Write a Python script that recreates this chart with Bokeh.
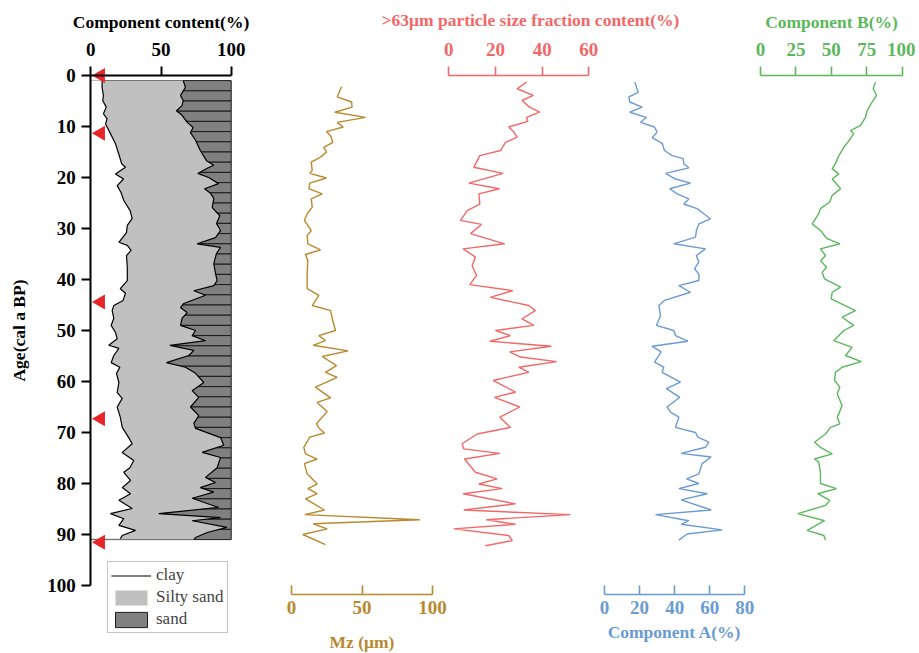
import numpy as np
from bokeh.plotting import figure
from bokeh.models import Range1d, LinearAxis, FixedTicker, Legend, LegendItem
from bokeh.embed import file_html
from bokeh.resources import INLINE

# ---------------- data ----------------
clay_age = [1.0, 2.3, 3.9, 4.9, 6.2, 7.5, 8.5, 9.5, 11.4, 13.4, 15.3, 17.3, 18.0, 19.3, 20.3, 21.6, 23.0,
            24.5, 26.5, 28.0, 29.4, 30.8, 32.7, 33.3, 34.3, 35.3, 37.6, 40.2, 41.8, 42.7, 44.1, 45.1, 46.1,
            47.6, 49.0, 50.4, 51.6, 52.9, 53.5, 54.9, 56.3, 57.2, 58.4, 60.2, 62.2, 63.3, 65.0, 67.0, 69.0,
            71.0, 72.2, 73.9, 75.5, 76.9, 77.8, 79.4, 80.8, 82.0, 83.3, 84.9, 85.9, 86.9, 88.2, 89.2, 90.2, 90.8]
clay = [8.1, 8.0, 9.0, 8.5, 11.0, 9.0, 11.6, 10.5, 14.0, 17.6, 19.8, 22.0, 24.7, 17.6, 23.3, 18.8, 21.6,
        23.5, 28.0, 29.5, 26.0, 25.4, 20.0, 26.0, 28.7, 25.4, 26.0, 26.0, 21.0, 24.7, 23.0, 16.4, 15.2,
        16.4, 14.5, 17.6, 18.8, 12.8, 20.0, 16.4, 14.5, 20.7, 18.3, 20.0, 18.8, 22.4, 18.8, 21.0, 22.4,
        27.0, 29.5, 22.4, 30.6, 27.8, 23.5, 28.3, 22.4, 28.3, 20.0, 29.5, 14.0, 23.5, 20.0, 31.8, 22.4, 21.0]

silt_age = [1.0, 2.3, 3.9, 4.9, 5.9, 6.9, 7.8, 9.2, 10.2, 11.2, 12.7, 14.7, 16.7, 17.6, 18.2, 19.2, 20.0,
            21.2, 22.2, 23.1, 24.1, 25.9, 27.5, 29.0, 30.4, 31.8, 33.0, 33.7, 34.9, 36.9, 38.8, 40.2, 41.2,
            42.2, 43.1, 44.7, 45.5, 46.5, 47.6, 49.0, 50.0, 51.0, 52.0, 52.9, 53.9, 54.9, 56.3, 57.2, 58.4,
            60.2, 61.8, 63.1, 65.0, 66.7, 68.2, 69.2, 71.0, 72.5, 73.9, 74.9, 76.9, 78.8, 79.8, 80.8, 81.7,
            82.9, 84.7, 85.9, 86.7, 87.3, 88.6, 89.6, 90.6, 91.0]
silt_top = [65.8, 67.4, 63.9, 65.8, 65.0, 61.0, 65.0, 68.7, 72.9, 71.0, 74.6, 78.0, 82.4, 87.6, 82.9, 76.2, 84.0,
            91.0, 81.0, 85.3, 87.6, 86.5, 91.9, 89.5, 92.4, 88.8, 75.8, 92.4, 89.5, 87.6, 88.8, 90.0, 87.6,
            73.4, 81.7, 66.2, 63.9, 68.7, 65.0, 63.9, 74.6, 72.2, 81.7, 56.3, 73.4, 69.8, 53.9, 67.4, 74.6,
            80.5, 72.2, 76.9, 71.0, 76.9, 73.4, 74.6, 92.4, 94.7, 79.3, 92.4, 90.0, 81.7, 88.8, 78.0, 87.6,
            72.2, 91.0, 48.4, 92.4, 72.2, 97.0, 82.9, 74.6, 73.4]

sand_rows = list(range(2, 92, 2))          # sand layer centres (age)
dating_age = [0.0, 11.3, 44.4, 67.3, 91.5]  # dating points (red triangles)

mz_age = [2.2, 4.2, 5.2, 6.2, 7.2, 8.2, 9.2, 10.1, 11.0, 11.8, 13.1, 14.1, 15.0, 16.0, 17.0, 18.6, 19.2,
          20.1, 21.1, 22.2, 23.2, 24.2, 25.8, 27.1, 28.4, 29.4, 30.4, 31.4, 33.0, 34.2, 35.1, 36.3, 38.9,
          41.8, 43.1, 45.1, 46.1, 48.0, 50.0, 51.0, 52.0, 52.9, 54.0, 55.1, 56.9, 58.2, 59.2, 61.1, 63.2,
          64.1, 65.9, 67.0, 68.3, 69.1, 70.1, 70.9, 72.9, 74.2, 75.2, 76.1, 78.1, 80.1, 81.0, 82.0, 83.0,
          85.2, 86.1, 87.1, 87.9, 88.9, 90.0, 92.0]
mz = [35.5, 32.4, 42.6, 43.0, 30.7, 52.5, 32.4, 36.7, 24.8, 27.7, 29.3, 22.9, 24.8, 20.6, 14.0, 14.7, 13.0,
      24.8, 13.0, 12.3, 21.8, 14.0, 14.7, 11.1, 9.2, 11.6, 14.0, 11.1, 11.6, 20.6, 9.9, 11.6, 11.1,
      11.1, 19.4, 14.7, 27.7, 29.2, 31.2, 19.4, 24.1, 15.4, 40.0, 21.8, 31.9, 24.1, 32.4, 17.0, 27.7,
      18.2, 25.3, 21.8, 17.7, 19.4, 23.4, 13.0, 8.7, 9.9, 18.2, 9.2, 11.1, 18.2, 11.6, 18.2, 9.9,
      23.4, 9.4, 91.0, 15.4, 25.3, 8.0, 24.1]

coarse_age = [1.3, 2.6, 3.9, 4.9, 6.1, 7.2, 8.2, 9.0, 10.1, 11.1, 12.1, 13.1, 14.7, 15.7, 16.7, 18.0, 19.2,
              21.1, 22.2, 23.2, 25.2, 26.5, 28.4, 29.2, 31.0, 33.0, 34.0, 35.6, 37.3, 39.2, 41.0, 42.2, 43.5,
              45.1, 46.1, 47.7, 49.0, 50.0, 51.0, 52.1, 53.1, 54.2, 55.2, 56.1, 57.2, 58.2, 59.8, 62.1, 63.1,
              65.0, 67.0, 69.0, 70.3, 72.2, 73.2, 74.1, 75.2, 77.8, 79.1, 80.1, 81.0, 82.0, 84.0, 85.2, 86.1,
              87.1, 88.0, 88.9, 90.2, 91.2, 92.2]
coarse = [33.3, 29.3, 36.2, 31.4, 34.3, 38.9, 33.3, 33.9, 25.7, 27.9, 29.3, 24.3, 22.2, 13.3, 12.2, 10.7, 23.3,
          8.6, 21.7, 12.9, 13.3, 7.9, 5.0, 14.0, 9.3, 23.9, 6.1, 11.4, 10.0, 11.9, 9.0, 27.4, 17.8,
          34.3, 37.1, 31.4, 36.4, 20.0, 26.4, 17.6, 43.9, 26.1, 30.7, 46.2, 30.0, 34.3, 19.0, 28.6, 19.6,
          30.4, 21.9, 26.4, 12.2, 5.7, 6.4, 21.9, 6.7, 11.4, 20.7, 12.9, 22.9, 6.1, 28.6, 6.4, 52.1,
          16.1, 28.6, 2.1, 25.7, 27.2, 15.7]

compA_age = [1.3, 3.3, 4.2, 5.2, 6.2, 7.2, 8.2, 9.2, 10.1, 11.1, 12.2, 13.3, 14.7, 15.7, 16.3, 17.3, 18.1,
             19.2, 20.3, 21.1, 22.2, 23.2, 24.2, 25.2, 26.1, 27.1, 28.1, 29.1, 30.4, 31.7, 33.0, 34.0, 35.3,
             36.6, 37.9, 38.9, 40.2, 41.2, 42.5, 44.1, 45.1, 47.1, 49.0, 50.0, 51.0, 52.1, 53.1, 54.2, 56.2,
             57.2, 58.2, 60.1, 61.4, 63.1, 65.0, 66.0, 67.0, 69.0, 70.0, 70.9, 71.9, 72.9, 74.1, 74.8, 76.1,
             78.1, 79.1, 80.0, 81.0, 82.0, 83.2, 85.2, 86.1, 87.3, 88.0, 89.1, 89.9, 91.1]
compA = [17.3, 19.2, 13.9, 14.4, 21.5, 14.4, 23.9, 20.5, 28.5, 30.0, 27.2, 32.9, 34.2, 38.6, 44.9, 45.2, 48.1,
         34.8, 40.5, 49.0, 37.2, 41.4, 48.1, 45.2, 52.8, 56.6, 60.4, 53.8, 52.4, 51.9, 39.5, 57.6, 52.4,
         53.8, 51.3, 53.8, 53.8, 42.4, 49.0, 34.2, 31.0, 31.9, 29.6, 39.5, 40.5, 47.5, 27.2, 32.3, 28.5,
         33.8, 32.9, 43.3, 35.3, 42.9, 35.7, 37.6, 42.4, 40.5, 51.9, 53.2, 59.5, 57.6, 43.7, 60.8, 55.7,
         53.8, 46.8, 53.8, 42.4, 58.6, 43.7, 60.8, 29.1, 48.1, 43.7, 67.1, 47.1, 42.4]

compB_age = [1.3, 2.6, 3.9, 5.2, 6.9, 8.2, 9.8, 10.8, 11.4, 12.4, 14.1, 15.7, 17.3, 18.3, 19.3, 20.3, 22.2,
             23.5, 24.8, 26.1, 27.1, 29.1, 30.4, 32.0, 33.0, 34.0, 35.3, 36.3, 37.6, 38.6, 39.9, 41.5, 42.5,
             43.8, 46.1, 47.4, 49.0, 50.0, 52.0, 53.3, 54.9, 56.1, 57.2, 58.2, 59.8, 61.1, 62.4, 64.7, 66.3,
             67.0, 68.3, 69.0, 70.3, 71.9, 72.9, 74.2, 75.2, 75.8, 77.8, 80.0, 81.0, 82.0, 83.3, 84.3, 85.9,
             87.3, 89.2, 90.2, 91.1]
compB = [81.2, 79.5, 81.9, 78.8, 75.3, 74.1, 70.6, 63.5, 65.8, 63.5, 58.8, 55.3, 52.9, 50.6, 55.3, 50.6, 56.5,
         50.6, 48.9, 42.3, 41.1, 36.5, 42.3, 47.0, 56.0, 42.3, 45.9, 42.3, 46.6, 43.5, 45.2, 56.5, 50.6,
         49.9, 67.0, 57.6, 65.8, 58.8, 51.7, 64.7, 60.0, 71.1, 57.6, 52.9, 52.2, 56.0, 54.1, 57.6, 55.3,
         54.1, 56.0, 49.4, 45.9, 38.1, 42.3, 50.6, 38.1, 41.1, 42.3, 42.3, 53.6, 40.4, 48.9, 45.9, 26.3,
         45.2, 32.9, 44.7, 45.9]

age_ticks = [0, 10, 20, 30, 40, 50, 60, 70, 80, 90, 100]
cc_ticks = [0, 50, 100]
mz_ticks = [0, 50, 100]
coarse_ticks = [0, 20, 40, 60]
compA_ticks = [0, 20, 40, 60, 80]
compB_ticks = [0, 25, 50, 75, 100]

# ---------------- layout (page pixels; the canvas starts at page 0,0) ----------------
W, H = 915, 652
FL, FW = 0.0, float(W)
AGE0_Y, PX_AGE = 75.0, 5.1
top_age = (0 - AGE0_Y) / PX_AGE
bot_age = (H - AGE0_Y) / PX_AGE


def xr(a, pa, b, pb):
    s = (pb - pa) / (b - a)
    start = a - (pa - FL) / s
    return Range1d(start=start, end=start + FW / s)


MZC = "#b8892f"
REDC = "#f26868"
BLUEC = "#6a9bd3"
GREENC = "#5cb85c"
FONT = "Liberation Serif"

p = figure(width=W, height=H, output_backend="svg", toolbar_location=None,
           x_range=xr(0, 90.3, 100, 230.7), y_range=Range1d(start=bot_age, end=top_age),
           x_axis_location=None, y_axis_location=None,
           min_border_left=0, min_border_right=0, min_border_top=0, min_border_bottom=0)
p.extra_x_ranges = {
    "mz": xr(0, 291, 100, 432),
    "red": xr(0, 448.3, 60, 588.3),
    "a": xr(0, 604, 80, 744.3),
    "b": xr(0, 760, 100, 901.7),
}
p.outline_line_color = None
p.grid.visible = False
p.background_fill_color = "white"
p.border_fill_color = "white"

# ---- component content panel ----
sand = p.hbar(y=sand_rows, left=0, right=100, height=2, fill_color="#808080", line_color="#1a1a1a",
              line_width=1)
silt = p.harea(x1=0, x2=silt_top, y=silt_age, fill_color="#c0c0c0")
p.harea(x1=0, x2=clay, y=clay_age, fill_color="white")
p.line(silt_top, silt_age, line_color="black", line_width=1.2)
clay_line = p.line(clay, clay_age, line_color="black", line_width=1.2)
p.scatter(x=7, y=dating_age, marker="triangle", size=15, angle=np.pi / 2,
          fill_color="#e8262a", line_color=None)

# ---- line panels ----
p.line(mz, mz_age, x_range_name="mz", line_color=MZC, line_width=1.4)
p.line(coarse, coarse_age, x_range_name="red", line_color=REDC, line_width=1.4)
p.line(compA, compA_age, x_range_name="a", line_color=BLUEC, line_width=1.4)
p.line(compB, compB_age, x_range_name="b", line_color=GREENC, line_width=1.4)


def style(ax, color, side):
    ax.axis_line_color = color
    ax.major_tick_line_color = color
    ax.major_label_text_color = color
    ax.axis_label_text_color = color
    ax.minor_tick_line_color = None
    ax.axis_line_width = 1.6
    ax.major_tick_line_width = 1.6
    ax.major_label_text_font = FONT
    ax.major_label_text_font_style = "bold"
    ax.major_label_text_font_size = "19px"
    ax.axis_label_text_font = FONT
    ax.axis_label_text_font_style = "bold"
    ax.axis_label_text_font_size = "17.5px"
    if side == "above":
        ax.major_tick_out = 9
        ax.major_tick_in = 0
        ax.major_label_standoff = 11
        ax.axis_label_standoff = 8
    elif side == "below":
        ax.major_tick_out = 0
        ax.major_tick_in = 9
        ax.major_label_standoff = 6


BOT_AGE = (594 - AGE0_Y) / PX_AGE

ax_cc = LinearAxis(fixed_location=0, bounds=(0, 100), ticker=FixedTicker(ticks=cc_ticks),
                   axis_label="Component content(%)")
style(ax_cc, "black", "above")
ax_cc.axis_line_width = 2
ax_cc.major_tick_line_width = 2
p.add_layout(ax_cc, "above")

ax_red = LinearAxis(x_range_name="red", fixed_location=0, bounds=(0, 60),
                    ticker=FixedTicker(ticks=coarse_ticks))
style(ax_red, REDC, "above")
p.add_layout(ax_red, "above")

# title of the coarse-fraction axis (sits slightly right of the axis centre in the original)
ax_red_title = LinearAxis(x_range_name="red", fixed_location=0, bounds=(10, 60),
                          ticker=FixedTicker(ticks=[]),
                          axis_label=">63\u03bcm particle size fraction content(%)")
style(ax_red_title, REDC, "above")
ax_red_title.axis_line_color = None
ax_red_title.major_tick_out = 0
ax_red_title.axis_label_standoff = 46
p.add_layout(ax_red_title, "above")

ax_b = LinearAxis(x_range_name="b", fixed_location=0, bounds=(0, 100),
                  ticker=FixedTicker(ticks=compB_ticks), axis_label="Component B(%)")
style(ax_b, GREENC, "above")
p.add_layout(ax_b, "above")

ax_mz = LinearAxis(x_range_name="mz", fixed_location=BOT_AGE, bounds=(0, 100),
                   ticker=FixedTicker(ticks=mz_ticks), axis_label="Mz (\u03bcm)")
style(ax_mz, MZC, "below")
ax_mz.axis_label_standoff = 15
p.add_layout(ax_mz, "below")

ax_a = LinearAxis(x_range_name="a", fixed_location=BOT_AGE, bounds=(0, 80),
                  ticker=FixedTicker(ticks=compA_ticks), axis_label="Component A(%)")
style(ax_a, BLUEC, "below")
ax_a.axis_label_standoff = 5
p.add_layout(ax_a, "below")

ax_age = LinearAxis(fixed_location=0, bounds=(0, 100), ticker=FixedTicker(ticks=age_ticks),
                    axis_label="Age(cal a BP)")
style(ax_age, "black", "left")
ax_age.axis_line_width = 2
ax_age.major_tick_line_width = 2
ax_age.major_tick_out = 9
ax_age.major_tick_in = 0
ax_age.major_label_standoff = 6
ax_age.axis_label_standoff = 15
p.add_layout(ax_age, "left")

legend = Legend(items=[LegendItem(label="clay", renderers=[clay_line]),
                       LegendItem(label="Silty sand", renderers=[silt]),
                       LegendItem(label="sand", renderers=[sand])],
                location=(107, H - 633), glyph_width=40, glyph_height=19, label_height=19,
                spacing=2, padding=3, margin=0, label_standoff=5,
                label_text_font=FONT, label_text_font_size="17px",
                border_line_color="#8a8a8a", border_line_width=1, background_fill_alpha=1)
p.add_layout(legend)

open("out.html", "w").write(file_html(p, INLINE))
